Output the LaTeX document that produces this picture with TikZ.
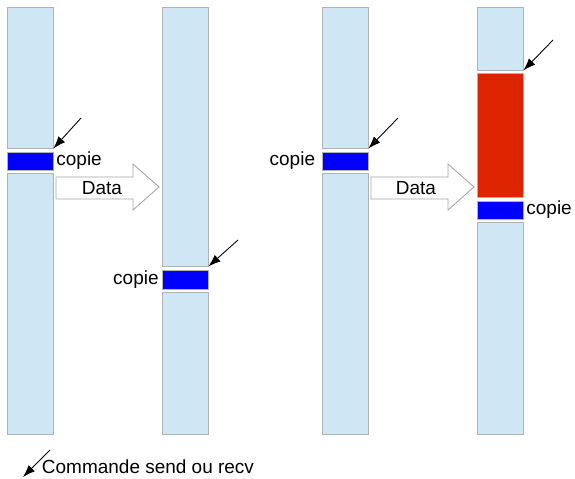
\documentclass[tikz,border=0pt]{standalone}
\usepackage{fontspec}
\setmainfont{Liberation Sans}
\usetikzlibrary{positioning,fit,arrows.meta}
\definecolor{memblue}{RGB}{207,231,245}
\definecolor{memred}{RGB}{221,36,0}
\tikzset{
  mem/.style={draw=black!30, line width=0.5pt, fill=memblue, inner sep=0pt},
  blk/.style={draw=black!30, line width=0.5pt, fill=blue, inner sep=0pt},
  busy/.style={draw=black!30, line width=0.5pt, fill=memred, inner sep=0pt},
  lbl/.style={inner sep=1.5pt, font=\fontsize{10.8pt}{13pt}\selectfont},
  cmd/.style={line width=0.5pt, -{Latex[length=7pt,width=5pt]}},
  bigarrow/.style={draw=black!35, line width=0.5pt, fill=white, line join=miter}
}
\begin{document}
\begin{tikzpicture}[x=0.02cm,y=-0.02cm]
\useasboundingbox (0,0) rectangle (575,479);

% memory columns: name/left/top/bottom/style
\foreach \N/\X/\A/\B/\S in {a1/7/7/148/mem, a2/7/152/170/blk, a3/7/173/434/mem,
    b1/162/7/266/mem, b2/162/270/289/blk, b3/162/292/434/mem,
    c1/322/7/148/mem, c2/322/152/170/blk, c3/322/173/434/mem,
    d1/477/7/70/mem, d2/477/73/197/busy, d3/477/201/219/blk, d4/477/222/434/mem} {
  \node[\S, fit={(\X,\A) (\X+46,\B)}] (\N) {};
}

% copies
\node[lbl, right=0pt of a2] (ta) {copie};
\node[lbl, left=0pt of b2] (tb) {copie};
\node[lbl, left=2pt of c2] (tc) {copie};
\node[lbl, right=0pt of d3] (td) {copie};

% data transfers
\draw[bigarrow] (56,177) -- (133,177) -- (133,164) -- (159,187) -- (133,210) -- (133,199) -- (56,199) -- cycle;
\node[lbl] (da) at (102,188) {Data};
\draw[bigarrow] (371,177) -- (448,177) -- (448,164) -- (474,187) -- (448,210) -- (448,199) -- (371,199) -- cycle;
\node[lbl] (dc) at (416,188) {Data};

% send / recv commands
\coordinate (sa) at (81,118);
\coordinate (sb) at (238,240);
\coordinate (sc) at (398,118);
\coordinate (sd) at (553,40);
\draw[cmd] (sa) -- (a1.south east);
\draw[cmd] (sb) -- (b1.south east);
\draw[cmd] (sc) -- (c1.south east);
\draw[cmd] (sd) -- (d1.south east);

% legend
\coordinate (k0) at (50,450);
\coordinate (k1) at (23,477);
\draw[cmd] (k0) -- (k1);
\node[lbl, anchor=west] (key) at (39,467) {Commande send ou recv};
\end{tikzpicture}
\end{document}
